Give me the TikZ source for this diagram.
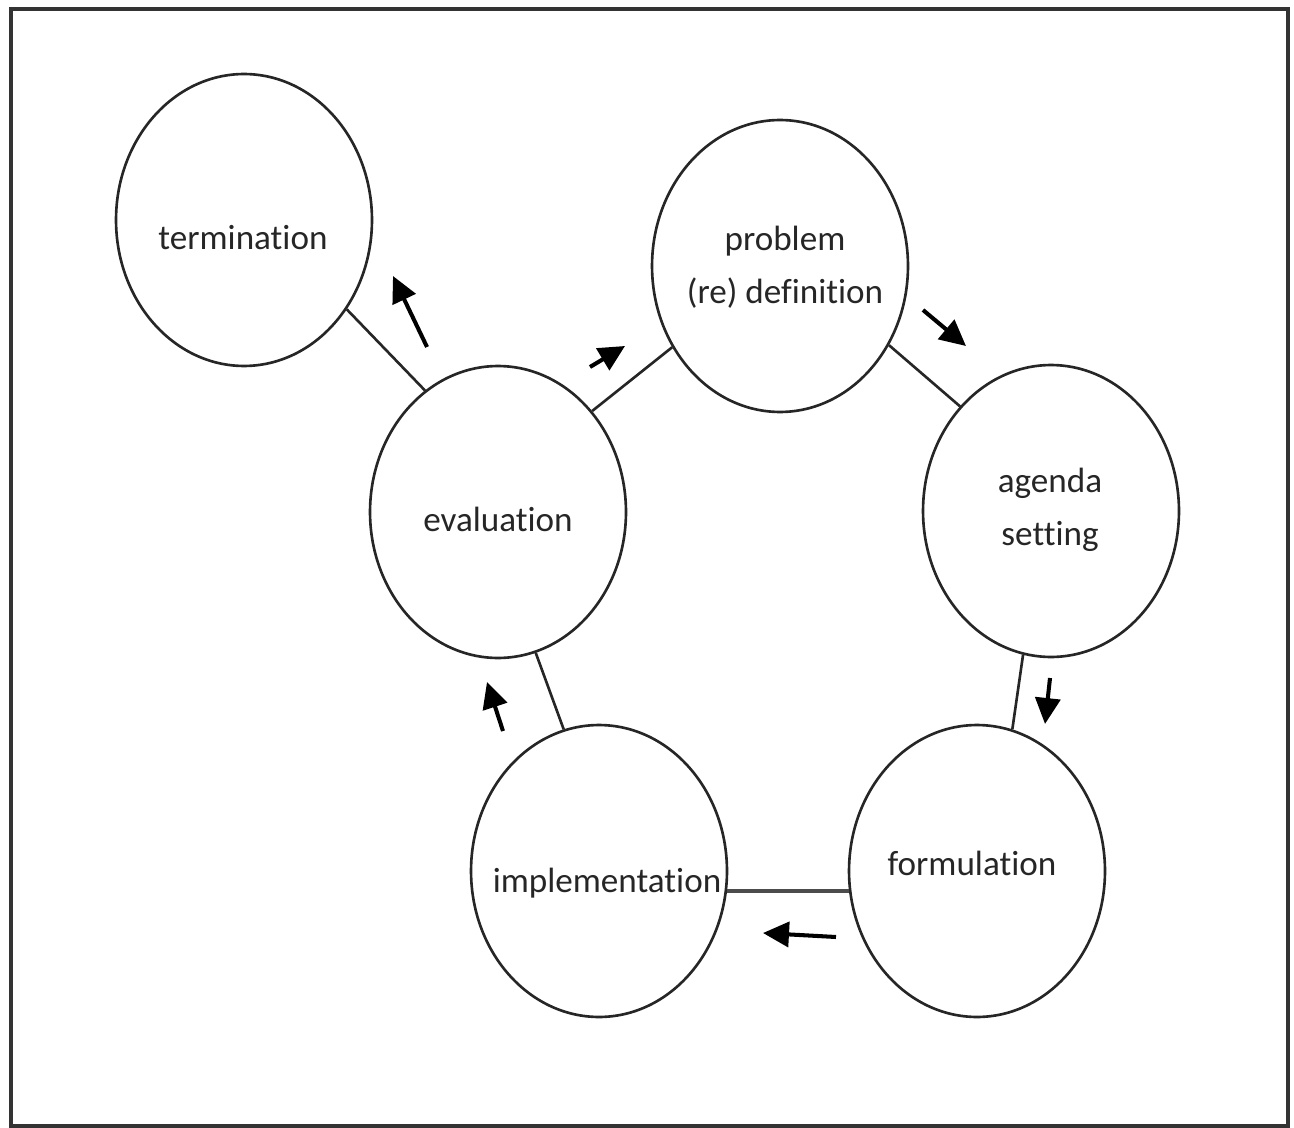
\documentclass[tikz,border=0pt]{standalone}
\usepackage{fontspec}
\setmainfont[RawFeature={-liga}]{Carlito}
\usetikzlibrary{shapes.geometric,arrows.meta}
\begin{document}
\begin{tikzpicture}[x=0.02cm,y=-0.02cm,
  stage/.style={draw=black!85,line width=1.5pt,ellipse,inner sep=0pt,
    minimum width=5.12cm,minimum height=5.84cm},
  txt/.style={font=\fontsize{20}{30}\selectfont,text=black!85,align=center,inner sep=0pt},
  link/.style={draw=black!85,line width=1.5pt},
  flow/.style={draw=black,line width=2.3pt,-{Triangle[length=0.52cm,width=0.5cm]}}]
\useasboundingbox (0,0) rectangle (1294,1128);
\draw[draw=black!80,line width=2pt] (11,9) rectangle (1288,1126);
% stages
\node[stage] (term) at (244,220) {};
\node[stage] (prob) at (780,266) {};
\node[stage] (agen) at (1051,511) {};
\node[stage] (eval) at (498,512) {};
\node[stage] (impl) at (599,871) {};
\node[stage] (form) at (977,871) {};
% texts
\node[txt] (termt) at (243,238) {termination};
\node[txt] (probt) at (785,267) {problem\\(re) definition};
\node[txt] (agent) at (1050,510) {agenda\\setting};
\node[txt] (evalt) at (498,519) {evaluation};
\node[txt] (implt) at (607,883) {implementation};
\node[txt] (formt) at (972,863) {formulation};
% links
\draw[link] (term.-41) -- (eval.121);
\draw[link] (eval.47) -- (prob.217);
\draw[link] (prob.-36) -- (agen.131);
\draw[link] (agen.-101) -- (form.76);
\draw[link,line width=2.2pt,draw=black!70] (impl.-9.4) -- (form.189.4);
\draw[link] (impl.104) -- (eval.-75);
% flow arrows
\coordinate (a1s) at (427,347); \coordinate (a1e) at (393,276);
\coordinate (a2s) at (590,367); \coordinate (a2e) at (625,346);
\coordinate (a3s) at (923,310); \coordinate (a3e) at (966,346);
\coordinate (a4s) at (1050,678); \coordinate (a4e) at (1045,724);
\coordinate (a5s) at (836,937); \coordinate (a5e) at (763,933);
\coordinate (a6s) at (503,731); \coordinate (a6e) at (487,682);
\draw[flow] (a1s) -- (a1e);
\draw[flow] (a2s) -- (a2e);
\draw[flow] (a3s) -- (a3e);
\draw[flow] (a4s) -- (a4e);
\draw[flow] (a5s) -- (a5e);
\draw[flow] (a6s) -- (a6e);
\end{tikzpicture}
\end{document}
